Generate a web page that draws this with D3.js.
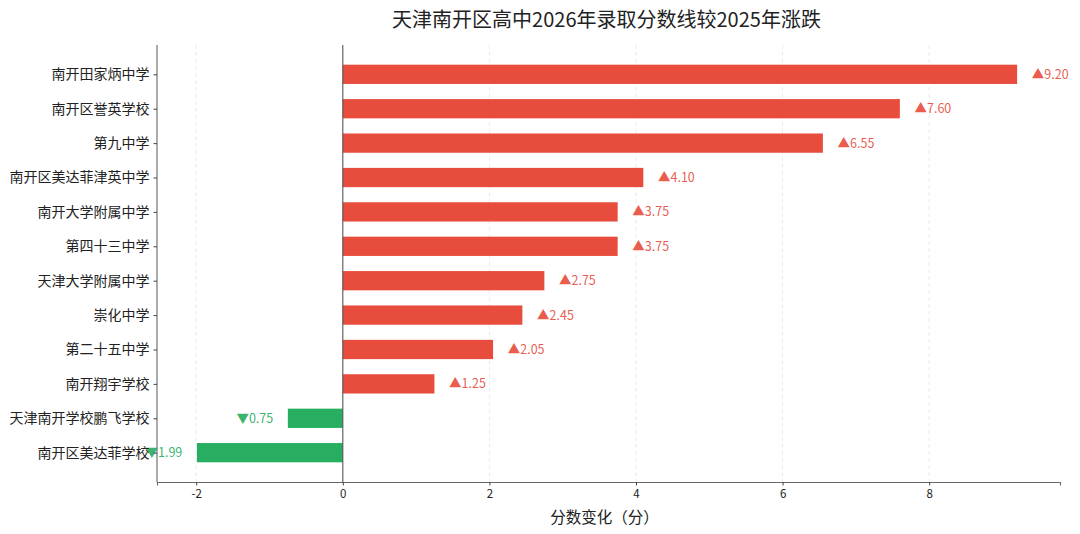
<!DOCTYPE html>
<html><head><meta charset="utf-8">
<script src="https://cdn.jsdelivr.net/npm/d3@7"></script>
<style>body{margin:0;background:#fff;} svg{display:block;font-family:"Noto Sans CJK SC","Noto Sans",sans-serif;}</style>
</head><body>
<svg id="c" width="1080" height="534"></svg>
<script>
const schools = ["南开田家炳中学","南开区誉英学校","第九中学","南开区美达菲津英中学","南开大学附属中学","第四十三中学","天津大学附属中学","崇化中学","第二十五中学","南开翔宇学校","天津南开学校鹏飞学校","南开区美达菲学校"];
const changes = [9.20,7.60,6.55,4.10,3.75,3.75,2.75,2.45,2.05,1.25,-0.75,-1.99];
const xTicks = [-2,0,2,4,6,8];
const title = "天津南开区高中2026年录取分数线较2025年涨跌";
const xLabel = "分数变化（分）";
const upColor = "#e74c3c", downColor = "#27ae60";

const svg = d3.select("#c");
const L=157, R=1060, T=45, B=482;
const x = d3.scaleLinear().domain([-2.535,9.785]).range([L,R]);
const y = d3.scaleLinear().domain([-0.8525,11.8525]).range([T,B]);
const bh = 0.56;

// grid
svg.append("g").selectAll("line").data(xTicks.filter(d=>d!==0)).join("line")
  .attr("x1",d=>x(d)).attr("x2",d=>x(d)).attr("y1",T).attr("y2",B)
  .attr("stroke","#e6e6e6").attr("stroke-width",0.8).attr("stroke-dasharray","4,3");

// bars
svg.append("g").selectAll("rect").data(changes).join("rect")
  .attr("x",d=>x(Math.min(0,d))).attr("width",d=>Math.abs(x(d)-x(0)))
  .attr("y",(d,i)=>y(i-bh/2)).attr("height",y(bh)-y(0))
  .attr("fill",d=>d>=0?upColor:downColor);

// zero line
svg.append("line").attr("x1",x(0)).attr("x2",x(0)).attr("y1",T).attr("y2",B)
  .attr("stroke","#555").attr("stroke-width",1.1);

// value labels
svg.append("g").selectAll("text").data(changes).join("text")
  .attr("x",d=>d>=0?x(d+0.2):x(d-0.2))
  .attr("y",(d,i)=>y(i)).attr("dy","0.36em")
  .attr("text-anchor",d=>d>=0?"start":"end")
  .attr("font-size",12.5)
  .attr("fill",d=>d>=0?upColor:downColor)
  .attr("fill-opacity",0.92)
  .text(d=>(d>=0?"▲":"▼")+Math.abs(d).toFixed(2));

// axes
const xAxis = d3.axisBottom(x).tickValues(xTicks).tickSize(3.5).tickPadding(4).tickFormat(d=>d);
const gx = svg.append("g").attr("transform",`translate(0,${B})`).call(xAxis);
gx.select(".domain").attr("stroke","#666").attr("stroke-width",1.1);
gx.selectAll(".tick line").attr("stroke","#444");
gx.selectAll("text").attr("font-size",11.5).attr("fill","#222").attr("font-family","'Noto Sans CJK SC',sans-serif");

const yAxis = d3.axisLeft(y).tickValues(d3.range(schools.length)).tickSize(3.5).tickPadding(4).tickFormat(i=>schools[i]);
const gy = svg.append("g").attr("transform",`translate(${L},0)`).call(yAxis);
gy.select(".domain").attr("d",`M0,${T}V${B}`).attr("stroke","#666").attr("stroke-width",1.1);
gy.selectAll(".tick line").attr("stroke","#444");
gy.selectAll("text").attr("font-size",14).attr("fill","#222").attr("font-family","'Noto Sans CJK SC',sans-serif");

// title & label
svg.append("text").attr("x",(L+R)/2 - 2).attr("y",27).attr("text-anchor","middle")
  .attr("font-size",20).attr("fill","#222").text(title);
svg.append("text").attr("x",(L+R)/2 - 4).attr("y",523).attr("text-anchor","middle")
  .attr("font-size",15.5).attr("fill","#222").text(xLabel);
</script>
</body></html>
